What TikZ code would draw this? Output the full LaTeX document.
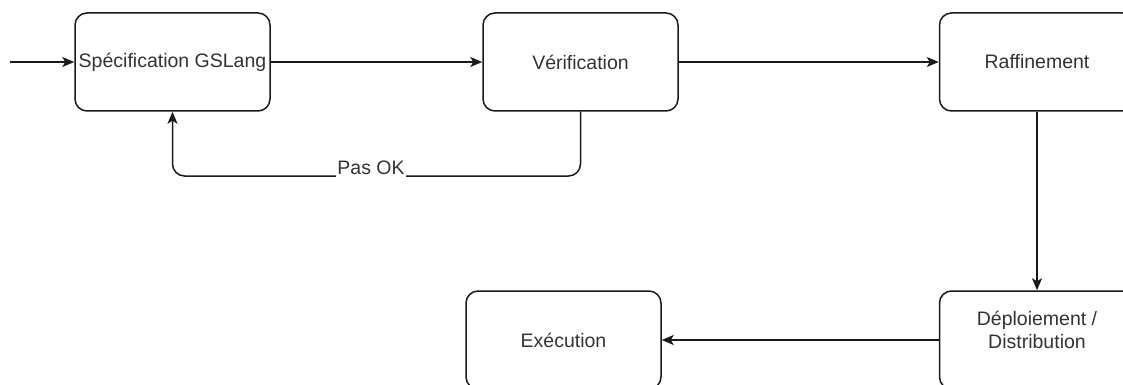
\documentclass[tikz,border=0pt]{standalone}
\usepackage{fontspec}
\setmainfont{Liberation Sans}
\usetikzlibrary{arrows.meta}
\definecolor{txtgray}{HTML}{333333}
\definecolor{linegray}{HTML}{1A1A1A}
\tikzset{
  box/.style={draw=linegray, line width=1.5pt, rounded corners=12pt, fill=white,
    minimum width=195pt, minimum height=98pt, inner sep=0pt,
    font=\fontsize{19.5}{23}\selectfont, text=txtgray, align=center},
  txt/.style={font=\fontsize{19.5}{23}\selectfont, text=txtgray, align=center, inner sep=0pt},
  conn/.style={draw=linegray, line width=1.5pt, -{Stealth[length=12pt,width=10pt,inset=3pt]}},
  lbl/.style={fill=white, inner xsep=1pt, inner ysep=0pt, text depth=3pt,
    font=\fontsize{19.5}{23}\selectfont, text=txtgray}
}
\begin{document}
\begin{tikzpicture}[x=1pt,y=-1pt]
\useasboundingbox (0,0) rectangle (1123,385);
\clip (0,0) rectangle (1123,385);
\fill[white] (0,0) rectangle (1123,385);
\node[box] (A) at (172.5,62) {Spécification GSLang};
\node[box] (B) at (580.5,62) {Vérification};
\node[box] (C) at (1037,62) {Raffinement};
\node[box] (D) at (1037,340) {};
\node[txt] (Dt) at (1037,330) {Déploiement /\\Distribution};
\node[box] (E) at (563.5,340) {Exécution};
\coordinate (start) at (10,62);
\draw[conn] (start) -- (A.west);
\draw[conn] (A.east) -- (B.west);
\draw[conn] (B.east) -- (C.west);
\draw[conn] (C.south) -- (D.north);
\draw[conn] (D.west) -- (E.east);
\draw[conn, rounded corners=12pt] (B.south) -- (B.south |- 0,176) -- (A.south |- 0,176) -- (A.south);
\node[lbl, anchor=base] (ok) at (371,174) {Pas OK};
\end{tikzpicture}
\end{document}
